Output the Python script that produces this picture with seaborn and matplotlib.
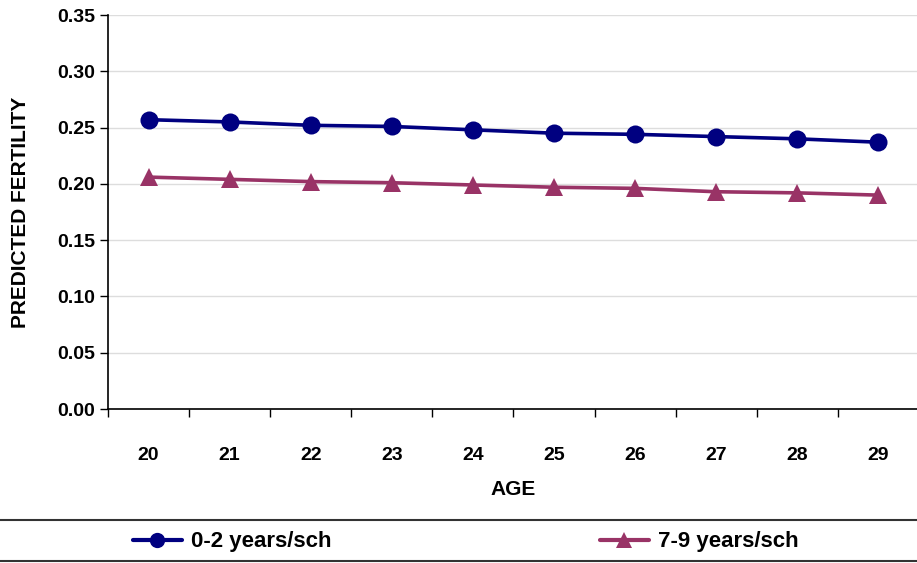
import matplotlib
matplotlib.use("Agg")
import matplotlib.pyplot as plt
from matplotlib.lines import Line2D
from matplotlib.ticker import FixedLocator, MultipleLocator
import seaborn as sns
import pandas as pd
import numpy as np

ages = ["20", "21", "22", "23", "24", "25", "26", "27", "28", "29"]
low_school = [0.257, 0.255, 0.252, 0.251, 0.248, 0.245, 0.244, 0.242, 0.240, 0.237]
high_school = [0.206, 0.204, 0.202, 0.201, 0.199, 0.197, 0.196, 0.193, 0.192, 0.190]
series_names = ["0-2 years/sch", "7-9 years/sch"]

sns.set_style("white")
plt.rcParams['font.family'] = ['Liberation Sans', 'DejaVu Sans']
plt.rcParams['text.color'] = 'black'
plt.rcParams['axes.labelcolor'] = 'black'
plt.rcParams['xtick.color'] = 'black'
plt.rcParams['ytick.color'] = 'black'

df = pd.DataFrame({
    "pos": list(range(len(ages))) * 2,
    "value": low_school + high_school,
    "series": [series_names[0]] * len(ages) + [series_names[1]] * len(ages),
})

fig = plt.figure(figsize=(9.17, 5.63), dpi=100)
ax = fig.add_axes([108/917, 1-409/563, 1-108/917 + 0.002, (409-15)/563])

palette = {series_names[0]: "#000080", series_names[1]: "#993366"}
markers = {series_names[0]: "o", series_names[1]: "^"}
sns.lineplot(data=df, x="pos", y="value", hue="series", style="series",
             palette=palette, markers=markers, dashes=False, linewidth=2.6,
             markersize=13, markeredgewidth=0, ax=ax, legend=False)

ax.set_xlim(-0.5, len(ages) - 0.5)
ax.set_ylim(0, 0.35)
ax.yaxis.set_major_locator(MultipleLocator(0.05))
ax.set_yticklabels([f"{v:.2f}" for v in ax.get_yticks()])
ax.grid(axis="y", color="#dddddd", linewidth=1)
ax.set_axisbelow(True)

ax.set_xticks(range(len(ages)))
ax.set_xticklabels(ages)
ax.xaxis.set_minor_locator(FixedLocator(np.arange(-0.5, len(ages), 1.0)))
ax.tick_params(axis="x", which="major", length=0, pad=27, labelsize=14)
ax.tick_params(axis="x", which="minor", length=6, width=1, direction="out", bottom=True, color="black")
ax.tick_params(axis="y", which="major", length=6, width=1, direction="out", left=True, labelsize=14, pad=3, color="black")
for lab in ax.get_xticklabels() + ax.get_yticklabels():
    lab.set_fontweight("bold")

for side in ["top", "right"]:
    ax.spines[side].set_visible(False)
for side in ["left", "bottom"]:
    ax.spines[side].set_color("black")
    ax.spines[side].set_linewidth(1.2)

ax.set_xlabel("AGE", fontsize=15, fontweight="bold", labelpad=12)
ax.set_ylabel("PREDICTED FERTILITY", fontsize=15, fontweight="bold", labelpad=20)

# legend band
fig.add_artist(Line2D([0, 1], [1-520/563, 1-520/563], color="#333333", lw=1.5, transform=fig.transFigure))
fig.add_artist(Line2D([0, 1], [1-561/563, 1-561/563], color="#333333", lw=1.5, transform=fig.transFigure))

for name, x0 in zip(series_names, [124, 591]):
    h = Line2D([], [], color=palette[name], marker=markers[name], lw=3, markersize=11, markeredgewidth=0)
    fig.legend([h], [name], loc="center left", bbox_to_anchor=(x0/917, 1-542/563),
               frameon=False, handlelength=2.2, handletextpad=0.4, borderaxespad=0,
               prop={"size": 16, "weight": "bold"})

fig.savefig("out.png", dpi=100)
